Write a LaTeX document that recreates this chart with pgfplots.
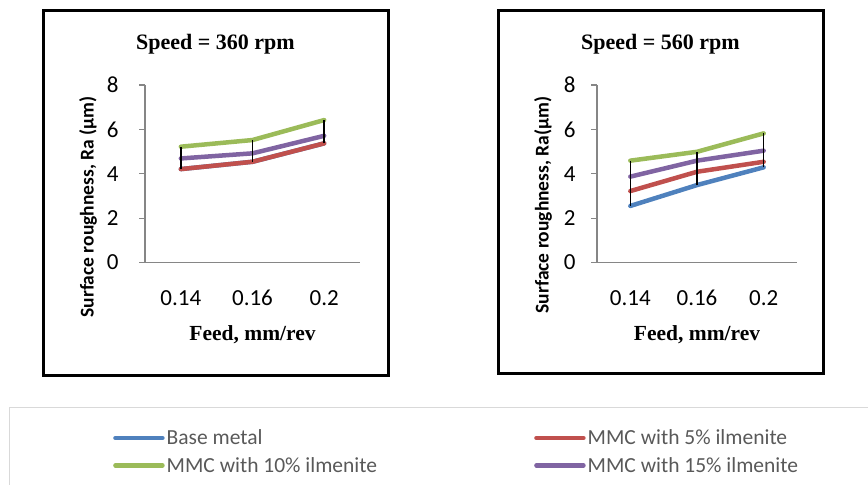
\documentclass[border=0pt]{standalone}
\usepackage{pgfplots}
\pgfplotsset{compat=1.18}
\usepackage{fontspec}
\setmainfont{Liberation Serif}
\newfontfamily\calib{Carlito}
\definecolor{cblue}{HTML}{4F81BD}
\definecolor{cred}{HTML}{C0504D}
\definecolor{cgreen}{HTML}{9BBB59}
\definecolor{cpurple}{HTML}{8064A2}
\definecolor{axgray}{HTML}{868686}
\definecolor{legtext}{HTML}{595959}
\definecolor{legbox}{HTML}{D9D9D9}
\pgfplotsset{
  mystyle/.style={
    scale only axis, height=177.5bp, anchor=south west,
    xmin=-0.5, xmax=2.5, ymin=0, ymax=8,
    axis x line=bottom, axis y line=left,
    axis line style={-, draw=axgray, line width=1.2bp},
    xtick={0,1,2}, xticklabels={0.14,0.16,0.2},
    ytick={0,2,4,6,8},
    tick align=outside, major tick length=6bp,
    xtick style={draw=none},
    ytick style={draw=axgray, line width=1.2bp},
    ticklabel style={font=\calib\fontsize{23bp}{26bp}\selectfont, text=black},
    /pgf/number format/assume math mode=true,
    xticklabel style={anchor=base, yshift=-37bp},
    yticklabel style={anchor=east},
    every axis plot/.append style={line width=4.5bp, line cap=round, line join=round},
    legend image code/.code={\draw[#1] (2.5bp,0bp) -- (49.5bp,0bp);},
    legend cell align=left,
    legend style={draw=none, fill=none, inner sep=0pt, anchor=north west,
      font=\calib\fontsize{21.5bp}{24bp}\selectfont, text=legtext,
      row sep=7bp, nodes={inner sep=2bp}},
  },
  hl/.style={black, line width=1.5bp, line cap=butt, forget plot},
}
\begin{document}
\begin{tikzpicture}
\path[use as bounding box] (0,0) rectangle (868bp,-485bp);
\draw[line width=3bp] (43bp,-10bp) rectangle (388bp,-375bp);
\draw[line width=3bp] (498bp,-10bp) rectangle (823bp,-373bp);
\draw[draw=legbox, line width=1bp] (9bp,-490bp) -- (9bp,-407bp) -- (875bp,-407bp);

% Left chart
\begin{axis}[mystyle, width=215bp, at={(145bp,-262.5bp)},
  yticklabel style={xshift=-17bp},
  legend style={at={(rel axis cs:-0.1488,-0.930)}}]
\addplot[cblue] coordinates {(0,4.21) (1,4.54) (2,5.37)};
\addlegendentry{Base metal}
\addplot[cred, forget plot] coordinates {(0,4.21) (1,4.54) (2,5.37)};
\addplot[cgreen] coordinates {(0,5.22) (1,5.52) (2,6.42)};
\addlegendentry{MMC with 10\% ilmenite}
\addplot[cpurple, forget plot] coordinates {(0,4.69) (1,4.92) (2,5.71)};
\addplot[hl] coordinates {(0,4.21) (0,5.22)};
\addplot[hl] coordinates {(1,4.54) (1,5.52)};
\addplot[hl] coordinates {(2,5.37) (2,6.42)};
\end{axis}

% Right chart
\begin{axis}[mystyle, width=200bp, at={(597bp,-262.5bp)},
  yticklabel style={xshift=-12bp},
  legend style={at={(rel axis cs:-0.315,-0.930)}}]
\addplot[cblue, forget plot] coordinates {(0,2.55) (1,3.49) (2,4.29)};
\addplot[cred] coordinates {(0,3.22) (1,4.09) (2,4.54)};
\addlegendentry{MMC with 5\% ilmenite}
\addplot[cgreen, forget plot] coordinates {(0,4.59) (1,4.99) (2,5.82)};
\addplot[cpurple] coordinates {(0,3.87) (1,4.59) (2,5.04)};
\addlegendentry{MMC with 15\% ilmenite}
\addplot[hl] coordinates {(0,2.55) (0,4.59)};
\addplot[hl] coordinates {(1,3.49) (1,4.99)};
\addplot[hl] coordinates {(2,4.29) (2,5.82)};
\end{axis}

% Titles and labels
\node[anchor=base, font=\bfseries\fontsize{22bp}{26bp}\selectfont] at (215.5bp,-49bp) {Speed = 360 rpm};
\node[anchor=base, font=\bfseries\fontsize{22bp}{26bp}\selectfont] at (660.5bp,-49bp) {Speed = 560 rpm};
\node[anchor=base, font=\bfseries\fontsize{21.5bp}{26bp}\selectfont] at (252.5bp,-340bp) {Feed, mm/rev};
\node[anchor=base, font=\bfseries\fontsize{21.5bp}{26bp}\selectfont] at (697bp,-340bp) {Feed, mm/rev};
\node[rotate=90, font=\calib\bfseries\fontsize{19.5bp}{22bp}\selectfont] at (88bp,-207bp) {Surface roughness, Ra (µm)};
\node[rotate=90, font=\calib\bfseries\fontsize{19.5bp}{22bp}\selectfont] at (543bp,-205bp) {Surface roughness, Ra(µm)};
\end{tikzpicture}
\end{document}
